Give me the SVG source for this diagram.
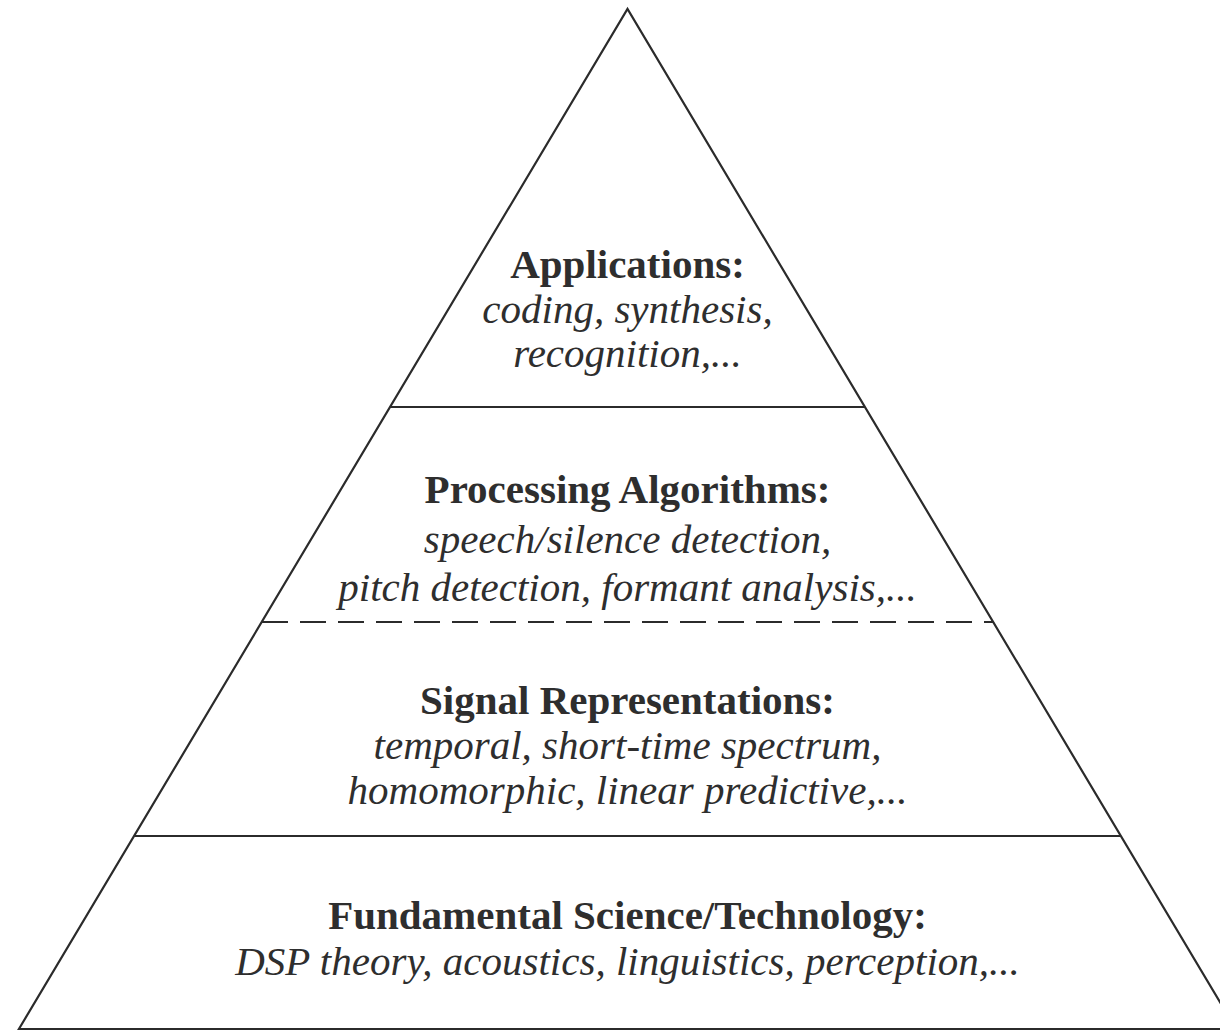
<svg xmlns="http://www.w3.org/2000/svg" width="1220" height="1030" viewBox="0 0 1220 1030">
<style>
.edge{stroke:#2b2b2b;stroke-width:2.2;fill:none;stroke-linecap:butt}
.dash{stroke-dasharray:26 12}
.h{font-family:"Liberation Serif","Times New Roman",serif;font-weight:bold;font-size:41px;fill:#2e2e2e;text-anchor:middle}
.t{font-family:"Liberation Serif","Times New Roman",serif;font-style:italic;font-size:41px;fill:#2e2e2e;text-anchor:middle}
</style>
<rect width="1220" height="1030" fill="#ffffff"/>
<g id="pyramid-outline">
<path class="edge" d="M18.9,1029 L627.5,9 L1236,1029 Z"/>
</g>
<g id="connectors">
<line class="edge" x1="390" y1="407" x2="865" y2="407"/>
<line class="edge dash" x1="262" y1="622" x2="993" y2="622"/>
<line class="edge" x1="134" y1="836" x2="1121" y2="836"/>
</g>
<g id="applications">
<text class="h" x="627.5" y="278">Applications:</text>
<text class="t" x="627.5" y="323">coding, synthesis,</text>
<text class="t" x="627.5" y="367">recognition,...</text>
</g>
<g id="processing-algorithms">
<text class="h" x="627.5" y="503">Processing Algorithms:</text>
<text class="t" x="627.5" y="553">speech/silence detection,</text>
<text class="t" x="627.5" y="601">pitch detection, formant analysis,...</text>
</g>
<g id="signal-representations">
<text class="h" x="627.5" y="714">Signal Representations:</text>
<text class="t" x="627.5" y="759">temporal, short-time spectrum,</text>
<text class="t" x="627.5" y="804">homomorphic, linear predictive,...</text>
</g>
<g id="fundamental-science">
<text class="h" x="627.5" y="929">Fundamental Science/Technology:</text>
<text class="t" x="627.5" y="975">DSP theory, acoustics, linguistics, perception,...</text>
</g>
</svg>
